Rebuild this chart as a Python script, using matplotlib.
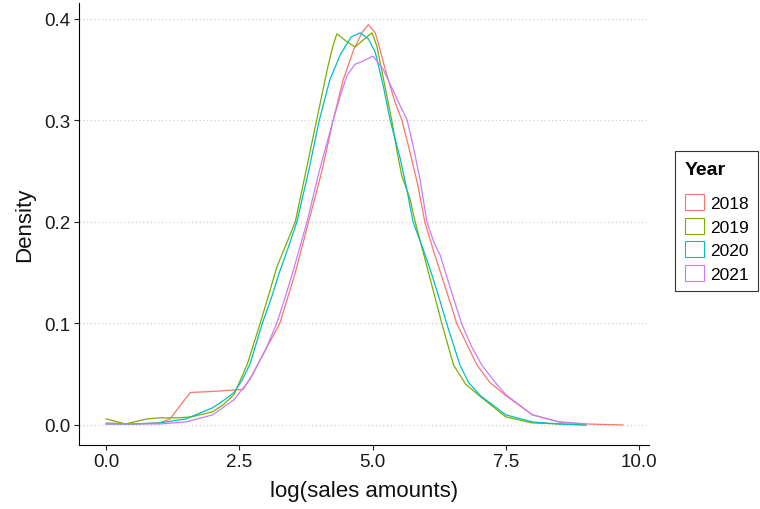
import matplotlib
matplotlib.use("Agg")
import matplotlib.pyplot as plt
from matplotlib.patches import Patch

plt.rcParams['font.family'] = ['Liberation Sans', 'DejaVu Sans']

years = ['2018', '2019', '2020', '2021']
colors = ['#F8766D', '#7CAE00', '#00BFC4', '#C77CFF']

# density curves (x = log sales amount, y = density)
x_2018 = [0.0, 0.5, 1.0, 1.2, 1.4, 1.58, 2.0, 2.3, 2.57, 2.75, 3.0, 3.26, 3.55, 3.8, 4.05,
          4.26, 4.45, 4.65, 4.8, 4.92, 5.05, 5.1, 5.27, 5.42, 5.55, 5.7, 5.85, 5.98, 6.17,
          6.4, 6.58, 6.96, 7.2, 7.5, 8.0, 8.5, 9.0, 9.7]
d_2018 = [0.002, 0.001, 0.002, 0.006, 0.02, 0.032, 0.033, 0.034, 0.035, 0.05, 0.075, 0.10,
          0.15, 0.20, 0.25, 0.30, 0.34, 0.37, 0.386, 0.394, 0.386, 0.377, 0.344, 0.318, 0.30,
          0.269, 0.236, 0.20, 0.167, 0.13, 0.10, 0.059, 0.042, 0.029, 0.01, 0.003, 0.001, 0.0]

x_2019 = [0.0, 0.36, 0.77, 1.0, 1.33, 1.6, 2.0, 2.2, 2.4, 2.65, 2.89, 3.05, 3.2, 3.38, 3.55,
          3.75, 3.95, 4.15, 4.25, 4.33, 4.5, 4.67, 4.85, 4.99, 5.08, 5.23, 5.36, 5.46, 5.55,
          5.7, 5.8, 6.05, 6.3, 6.52, 6.75, 7.0, 7.5, 8.0, 8.5, 9.0]
d_2019 = [0.006, 0.001, 0.006, 0.007, 0.007, 0.008, 0.013, 0.02, 0.03, 0.06, 0.10, 0.128,
          0.155, 0.178, 0.20, 0.25, 0.30, 0.35, 0.372, 0.385, 0.378, 0.372, 0.38, 0.386,
          0.373, 0.334, 0.30, 0.269, 0.245, 0.223, 0.20, 0.15, 0.10, 0.059, 0.04, 0.029,
          0.008, 0.002, 0.001, 0.0]

x_2020 = [0.0, 0.5, 1.0, 1.5, 2.0, 2.2, 2.4, 2.55, 2.7, 2.93, 3.1, 3.25, 3.42, 3.58, 3.8,
          4.0, 4.2, 4.4, 4.6, 4.77, 4.92, 5.05, 5.2, 5.33, 5.52, 5.65, 5.76, 5.95, 6.1,
          6.25, 6.39, 6.64, 6.8, 7.02, 7.5, 8.0, 8.5, 9.0]
d_2020 = [0.001, 0.001, 0.002, 0.006, 0.017, 0.024, 0.032, 0.044, 0.06, 0.10, 0.125, 0.15,
          0.175, 0.20, 0.25, 0.30, 0.34, 0.365, 0.382, 0.386, 0.38, 0.367, 0.334, 0.30,
          0.262, 0.23, 0.20, 0.173, 0.15, 0.125, 0.10, 0.059, 0.042, 0.029, 0.01, 0.003,
          0.001, 0.0]

x_2021 = [0.0, 1.0, 1.5, 2.0, 2.4, 2.7, 3.0, 3.2, 3.35, 3.5, 3.77, 4.0, 4.26, 4.4, 4.52,
          4.67, 4.77, 5.01, 5.2, 5.37, 5.52, 5.65, 5.76, 5.89, 6.02, 6.15, 6.27, 6.47, 6.67,
          6.85, 7.05, 7.3, 7.52, 8.0, 8.5, 9.0]
d_2021 = [0.001, 0.001, 0.003, 0.01, 0.025, 0.045, 0.075, 0.10, 0.124, 0.15, 0.20, 0.25,
          0.30, 0.325, 0.344, 0.355, 0.357, 0.363, 0.35, 0.331, 0.314, 0.30, 0.275, 0.242,
          0.20, 0.18, 0.167, 0.133, 0.10, 0.078, 0.059, 0.042, 0.029, 0.01, 0.003, 0.001]

series = [(x_2018, d_2018), (x_2019, d_2019), (x_2020, d_2020), (x_2021, d_2021)]

fig = plt.figure(figsize=(7.6, 5.1), dpi=100)
ax = fig.add_axes([0.104, 0.1255, 0.75, 0.866])

yticks = [0.0, 0.1, 0.2, 0.3, 0.4]
for yt in yticks:
    ax.axhline(yt, color='#cfcfcf', linestyle=(0, (1, 2)), linewidth=0.9, zorder=0)

for (xs, ds), col in zip(series, colors):
    ax.plot(xs, ds, color=col, linewidth=0.9, solid_joinstyle='round')

ax.set_xlim(-0.51, 10.19)
ax.set_ylim(-0.0197, 0.415)
ax.set_xticks([0.0, 2.5, 5.0, 7.5, 10.0])
ax.set_xticklabels(['0.0', '2.5', '5.0', '7.5', '10.0'])
ax.set_yticks(yticks)
ax.set_yticklabels(['0.0', '0.1', '0.2', '0.3', '0.4'])
ax.tick_params(labelsize=13.5, length=3.5, width=0.8, pad=2.5,
               colors='#222222', labelcolor='#1a1a1a')
ax.spines['top'].set_visible(False)
ax.spines['right'].set_visible(False)
ax.set_xlabel('log(sales amounts)', fontsize=16, color='#111111', labelpad=7)
ax.set_ylabel('Density', fontsize=16, color='#111111', labelpad=7)

handles = [Patch(facecolor='white', edgecolor=c, linewidth=0.8) for c in colors]
leg = fig.legend(handles, years, title='Year', loc='upper right',
                 bbox_to_anchor=(758 / 760, 1 - 152 / 510), bbox_transform=fig.transFigure,
                 fontsize=12.5, title_fontproperties={'weight': 'bold', 'size': 14},
                 frameon=True, fancybox=False, handlelength=1.15, handleheight=1.05,
                 labelspacing=0.38, handletextpad=0.3, borderpad=0.55, borderaxespad=0)
leg.get_frame().set_edgecolor('black')
leg.get_frame().set_linewidth(0.8)
leg._legend_box.align = 'left'
leg._legend_box.sep = 12

fig.savefig('out.png', dpi=100)
